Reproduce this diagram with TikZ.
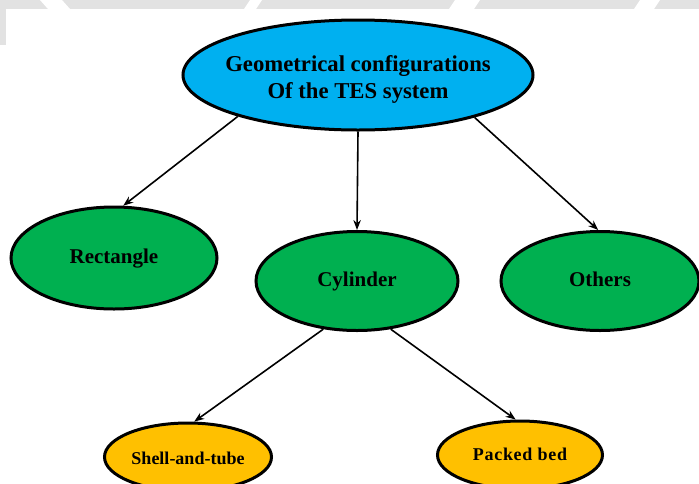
\documentclass[tikz,border=0pt]{standalone}
\usepackage{fontspec}
\setmainfont{Liberation Serif}
\usetikzlibrary{shapes.geometric,arrows.meta}

\definecolor{topblue}{HTML}{00B0F0}
\definecolor{leafgreen}{HTML}{00B050}
\definecolor{subgold}{HTML}{FFC000}
\definecolor{bandgray}{HTML}{E2E2E2}

% shift the text inside an oval without changing the oval
\newcommand{\nudge}[2]{\raisebox{#1}[\height][\depth]{#2}}

\tikzset{
  oval/.style={ellipse, draw=black, line width=3pt, inner sep=0pt, align=center,
               font=\bfseries},
  rootoval/.style={oval, fill=topblue, minimum width=350pt, minimum height=110pt,
               inner xsep=-14pt, font=\bfseries\fontsize{22.7}{27}\selectfont},
  midoval/.style={oval, fill=leafgreen, minimum width=202pt, minimum height=99pt,
               font=\bfseries\fontsize{21}{25}\selectfont},
  lowoval/.style={oval, fill=subgold, minimum width=167pt, minimum height=68pt,
               font=\bfseries\fontsize{18}{22}\selectfont},
  link/.style={line width=1.6pt, -{Stealth[length=10pt,width=7.5pt]}},
}

\begin{document}
\begin{tikzpicture}[x=1pt, y=-1pt]
  \useasboundingbox (0,0) rectangle (699,483);
  \fill[white] (0,0) rectangle (699,483);

  % faint banner strip along the top edge
  \fill[bandgray] (0,0) rectangle (699,9);
  \fill[bandgray] (0,0) rectangle (6,45);
  \fill[white] (40,0) -- (62,0) -- (70,9) -- (48,9) -- cycle;
  \fill[white] (250,0) -- (262,0) -- (256,9) -- (244,9) -- cycle;
  \fill[white] (455,0) -- (480,0) -- (474,9) -- (449,9) -- cycle;
  \fill[white] (640,0) -- (660,0) -- (654,9) -- (634,9) -- cycle;

  % nodes
  \node[rootoval] (root) at (358,75)
    {\nudge{-5pt}{\begin{tabular}{@{}c@{}}Geometrical configurations\\Of the TES system\end{tabular}}};
  \node[midoval, minimum width=206pt, minimum height=102pt] (rect) at (114,258) {\nudge{-1pt}{Rectangle}};
  \node[midoval] (cyl) at (357,281) {Cylinder};
  \node[midoval, minimum width=198pt] (oth) at (600,281) {\nudge{2pt}{Others}};
  \node[lowoval] (shell) at (188,457) {\nudge{-1pt}{Shell-and-tube}};
  \node[lowoval, minimum width=165pt] (packed) at (520,455)
    {\nudge{1pt}{\addfontfeatures{LetterSpace=4}Packed bed}};

  % connectors
  \draw[link] (root.199) -- (rect.80);
  \draw[link] (root.south) -- (cyl.north);
  \draw[link] (root.-20) -- (oth.92);
  \draw[link] (cyl.235) -- (shell.80);
  \draw[link] (cyl.-55) -- (packed.97);
\end{tikzpicture}
\end{document}
